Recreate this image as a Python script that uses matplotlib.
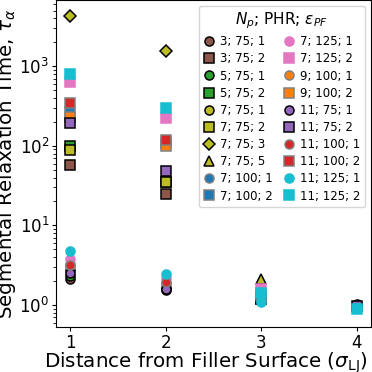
import numpy as np
import matplotlib
matplotlib.use('Agg')
import matplotlib.pyplot as plt

### data
distance = [1, 2, 3, 4]
labels = ['3; 75; 1', '3; 75; 2', '5; 75; 1', '5; 75; 2', '7; 75; 1', '7; 75; 2',
          '7; 75; 3', '7; 75; 5', '7; 100; 1', '7; 100; 2', '7; 125; 1', '7; 125; 2',
          '9; 100; 1', '9; 100; 2', '11; 75; 1', '11; 75; 2', '11; 100; 1', '11; 100; 2',
          '11; 125; 1', '11; 125; 2']
markers = ['o', 's', 'o', 's', 'o', 's', 'D', '^', 'o', 's', 'o', 's',
           'o', 's', 'o', 's', 'o', 's', 'o', 's']
colors = ['tab:brown', 'tab:brown', 'tab:green', 'tab:green', 'tab:olive', 'tab:olive',
          'tab:olive', 'tab:olive', 'tab:blue', 'tab:blue', 'tab:pink', 'tab:pink',
          'tab:orange', 'tab:orange', 'tab:purple', 'tab:purple', 'tab:red', 'tab:red',
          'tab:cyan', 'tab:cyan']
edges = ['k', 'k', 'k', 'k', 'k', 'k', 'k', 'k', 'gray', 'gray', None, None,
         'gray', 'gray', 'k', 'k', 'gray', 'gray', None, None]
tau = [
    [2.15, 1.55, 1.15, np.nan],
    [57, 24.5, 1.2, np.nan],
    [2.35, 1.65, 1.15, np.nan],
    [101, 35.5, 1.2, np.nan],
    [2.75, 1.6, 1.2, np.nan],
    [88, 35, 1.25, np.nan],
    [4270, 1540, np.nan, np.nan],
    [np.nan, np.nan, 2.15, np.nan],
    [3.3, 1.9, 1.2, np.nan],
    [265, 110, 1.3, np.nan],
    [3.75, 2.2, 1.3, np.nan],
    [635, 222, 1.57, np.nan],
    [3.1, 1.85, 1.15, np.nan],
    [230, 100, 1.3, np.nan],
    [2.5, 1.6, 1.15, 1.02],
    [192, 48, 1.3, 0.98],
    [3.2, 1.96, 1.15, np.nan],
    [345, 118, 1.35, np.nan],
    [4.72, 2.43, 1.1, 0.93],
    [790, 297, 1.4, 0.88],
]

plt.rcParams['font.size'] = 11.5
fig, ax = plt.subplots(figsize=(3.72, 3.72), dpi=100)
fig.subplots_adjust(left=0.151, right=0.997, bottom=0.121, top=1.0)

for i in range(len(labels)):
    ec = edges[i] if edges[i] is not None else colors[i]
    ax.plot(distance, tau[i], linestyle='none', marker=markers[i], color=colors[i],
            markeredgecolor=ec, markeredgewidth=1.1, markersize=6.5, label=labels[i])

ax.set_yscale('log')
ax.set_xlim(0.85, 4.15)
ax.set_ylim(0.53, 6800)
ax.set_xticks(distance)
ax.tick_params(labelsize=12, length=3, pad=2)
ax.tick_params(which='minor', length=2)
ax.set_xlabel(r'Distance from Filler Surface ($\sigma_{\mathrm{LJ}}$)', fontsize=14.3)
ax.set_ylabel(r'Segmental Relaxation Time, $\tau_\alpha$', fontsize=14.3, labelpad=1)
ax.xaxis.set_label_coords(0.476, -0.073, transform=ax.transAxes)
ax.xaxis.label.set_va('top')

leg = ax.legend(ncol=2, loc='upper right', fontsize=8.5,
                title=r'$N_p$; PHR; $\varepsilon_{PF}$', title_fontsize=11,
                handlelength=1.0, handletextpad=0.4, columnspacing=0.9,
                labelspacing=0.35)

plt.savefig('out.png', dpi=100)
